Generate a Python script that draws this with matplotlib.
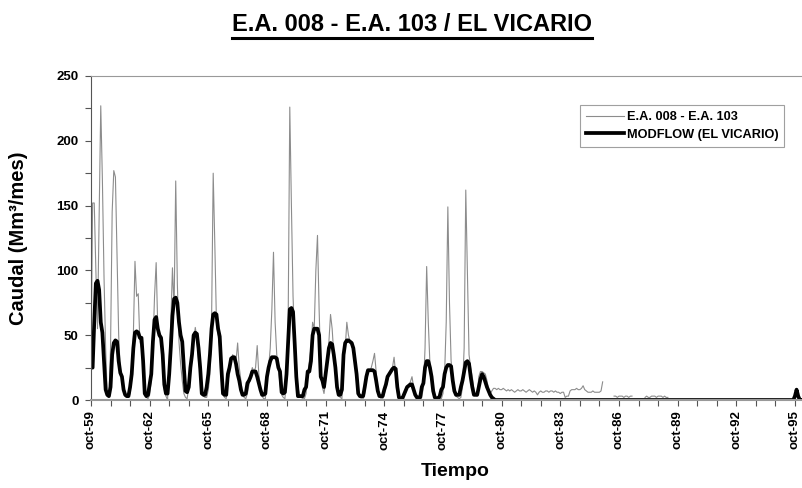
import matplotlib
matplotlib.use("Agg")
import matplotlib.pyplot as plt
from matplotlib.lines import Line2D
import numpy as np

plt.rcParams['font.family'] = ['Liberation Sans', 'DejaVu Sans']
plt.rcParams['font.weight'] = 'bold'

nan = np.nan

# monthly flow (Mm3/month), hydrological years starting in october
obs_59_65 = [25, 152, 152, 100, 55, 140, 227, 170, 95, 40, 3, 2,
             40, 145, 177, 172, 110, 50, 22, 15, 6, 3, 2, 2,
             5, 20, 50, 107, 80, 82, 45, 40, 30, 5, 2, 1,
             4, 15, 40, 80, 106, 55, 50, 45, 30, 8, 3, 0,
             30, 60, 102, 70, 169, 90, 45, 28, 15, 5, 2, 1,
             10, 25, 35, 45, 56, 48, 30, 20, 8, 3, 2, 2]
obs_65_71 = [8, 20, 60, 175, 120, 60, 50, 40, 15, 4, 2, 1,
             15, 20, 30, 35, 32, 30, 44, 25, 15, 4, 2, 1,
             5, 12, 20, 25, 22, 25, 42, 20, 10, 3, 1, 1,
             15, 25, 40, 70, 114, 60, 35, 25, 12, 4, 2, 1,
             15, 60, 226, 150, 80, 45, 22, 10, 4, 2, 1, 1,
             5, 20, 30, 40, 60, 55, 100, 127, 70, 25, 10, 5]
obs_71_77 = [15, 30, 45, 66, 55, 35, 20, 8, 3, 2, 1, 30,
             40, 60, 50, 45, 42, 38, 30, 15, 4, 2, 1, 1,
             5, 18, 22, 22, 25, 30, 36, 22, 8, 3, 1, 1,
             5, 10, 15, 20, 22, 25, 33, 20, 6, 2, 1, 1,
             3, 6, 10, 12, 14, 18, 10, 4, 2, 1, 1, 2,
             10, 40, 103, 60, 28, 20, 10, 4, 2, 1, 1, 1]
obs_77_81 = [5, 20, 60, 149, 75, 30, 20, 8, 3, 2, 1, 2,
             10, 40, 162, 100, 35, 25, 18, 8, 4, 3, 18, 22,
             22, 21, 20, 15, 8, 5, 7, 9, 9, 8, 9, 8,
             8, 9, 8, 7, 8, 7, 8, 7, 6, 7, 8, 7]
obs_81_85 = [7, 8, 7, 6, 7, 8, 7, 6, 7, 6, 4, 6,
             7, 6, 6, 7, 7, 6, 7, 7, 6, 7, 6, 6,
             5, 6, 6, 2, 3, 3, 7, 8, 8, 8, 9, 8,
             8, 9, 11, 8, 7, 6, 6, 6, 7, 6, 6, 6,
             6, 7, 14]
obs_85_89 = ([nan] * 6 + [3, 3, 2, 3, 3, 3, 2, 3, 3, 2, 3, 3] + [nan] * 7 +
             [2, 3, 2, 2, 3, 3, 3, 2, 3, 3, 3, 2, 3, 2, 2])

mod_59_65 = [25, 25, 60, 90, 92, 85, 60, 52, 30, 8, 4, 3,
             10, 35, 44, 46, 45, 30, 21, 18, 8, 4, 3, 3,
             10, 20, 40, 52, 53, 52, 48, 48, 30, 5, 3, 4,
             12, 20, 45, 62, 64, 55, 50, 48, 35, 12, 5, 5,
             20, 41, 65, 78, 79, 75, 60, 50, 45, 25, 7, 6,
             10, 25, 35, 50, 52, 51, 40, 25, 5, 4, 4, 10]
mod_65_71 = [20, 35, 55, 66, 67, 66, 55, 49, 25, 5, 4, 4,
             20, 25, 32, 33, 33, 28, 20, 15, 8, 4, 4, 5,
             13, 15, 18, 22, 22, 22, 18, 13, 8, 4, 4, 5,
             18, 25, 30, 33, 33, 33, 32, 25, 22, 6, 5, 6,
             20, 45, 70, 71, 68, 44, 18, 3, 3, 3, 3, 8,
             10, 22, 22, 30, 50, 55, 55, 55, 50, 18, 15, 10]
mod_71_77 = [20, 30, 40, 44, 43, 35, 25, 10, 4, 4, 8, 35,
             44, 46, 46, 45, 44, 40, 30, 20, 5, 3, 3, 3,
             10, 18, 23, 23, 23, 23, 22, 15, 7, 3, 3, 3,
             8, 12, 18, 20, 22, 24, 25, 24, 10, 2, 1, 1,
             4, 7, 10, 11, 12, 12, 8, 4, 2, 2, 2, 10,
             13, 25, 30, 30, 25, 18, 7, 2, 1, 1, 3, 8]
mod_77_81 = [10, 20, 25, 27, 27, 26, 15, 7, 4, 4, 4, 10,
             15, 22, 29, 30, 28, 18, 10, 4, 4, 4, 10, 16,
             20, 18, 14, 10, 7, 4, 2, 1]
mod_81_96 = [0] * 184 + [3, 8, 3, 0, 0]

obs = np.array(obs_59_65 + obs_65_71 + obs_71_77 + obs_77_81 + obs_81_85 + obs_85_89, float)
mod = np.array(mod_59_65 + mod_65_71 + mod_71_77 + mod_77_81 + mod_81_96, float)
n_months = len(mod)
obs = np.concatenate([obs, np.full(n_months - len(obs), nan)])
months = np.arange(n_months)

tick_labels = ['oct-59', 'oct-62', 'oct-65', 'oct-68', 'oct-71', 'oct-74', 'oct-77',
               'oct-80', 'oct-83', 'oct-86', 'oct-89', 'oct-92', 'oct-95']

fig = plt.figure(figsize=(8.03, 4.88), dpi=100)
ax = fig.add_axes([0.1133, 0.1803, 0.8860, 0.664])

ax.plot(months, obs, '-', color='#8c8c8c', linewidth=0.8, label='E.A. 008 - E.A. 103')
ax.plot(months, mod, '-', color='black', linewidth=2.7, label='MODFLOW (EL VICARIO)')

ax.set_xlim(0, 436.6)
ax.set_ylim(0, 250)
ax.set_yticks(range(0, 251, 50))
ax.set_yticks(range(0, 251, 25), minor=True)
ax.set_xticks(range(0, len(tick_labels) * 36, 36))
ax.set_xticklabels(tick_labels, rotation=90)
ax.set_xticks(range(0, 437, 12), minor=True)
ax.tick_params(axis='both', which='both', direction='out', length=4, width=0.8,
               color='#555555', labelsize=9.5)
ax.tick_params(axis='y', pad=5)

ax.spines['right'].set_visible(False)
ax.spines['top'].set_color('#999999')
ax.spines['bottom'].set_color('#999999')
ax.spines['bottom'].set_linewidth(1.5)
ax.spines['left'].set_color('#555555')

ax.set_ylabel('Caudal (Mm³/mes)', fontsize=14.5, fontweight='bold')
ax.yaxis.set_label_coords(-0.088, 0.5)
ax.set_xlabel('Tiempo', fontsize=14, fontweight='bold')
ax.xaxis.set_label_coords(0.512, -0.195)

leg = ax.legend(loc='upper right', bbox_to_anchor=(0.978, 0.917), fontsize=9.2,
                frameon=True, fancybox=False, handlelength=3.0, borderpad=0.45,
                labelspacing=0.45, handletextpad=0.2, borderaxespad=0.2)
leg.get_frame().set_edgecolor('#888888')
leg.get_frame().set_linewidth(0.8)
for t in leg.get_texts():
    t.set_fontweight('bold')

title = fig.text(0.513, 0.95, 'E.A. 008 - E.A. 103 / EL VICARIO', ha='center', va='center',
                 fontsize=17, fontweight='bold')
fig.canvas.draw()
bb = title.get_window_extent().transformed(fig.transFigure.inverted())
fig.add_artist(Line2D([bb.x0, bb.x1], [bb.y0 - 0.005, bb.y0 - 0.005], color='black',
                      linewidth=2.2, transform=fig.transFigure))

fig.savefig('out.png', dpi=100)
